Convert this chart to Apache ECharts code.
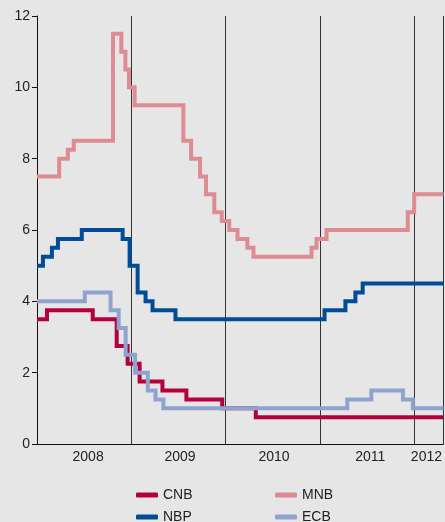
<!DOCTYPE html>
<html>
<head>
<meta charset="utf-8">
<script src="https://cdn.jsdelivr.net/npm/echarts@6/dist/echarts.min.js"></script>
<style>
html,body{margin:0;padding:0;background:#e6e6e6;}
#c{width:445px;height:522px;}
</style>
</head>
<body>
<div id="c"></div>
<script>
// Step data: [date as fractional year, rate after change]
const cnb = [[2008.0,3.5],[2008.106,3.75],[2008.591,3.5],[2008.845,2.75],[2008.961,2.25],[2009.088,1.75],[2009.33,1.5],[2009.584,1.25],[2009.964,1.0],[2010.32,0.75],[2012.31,0.75]];
const nbp = [[2008.0,5.0],[2008.063,5.25],[2008.158,5.5],[2008.222,5.75],[2008.475,6.0],[2008.908,5.75],[2008.982,5.0],[2009.067,4.25],[2009.151,4.0],[2009.225,3.75],[2009.468,3.5],[2011.049,3.75],[2011.27,4.0],[2011.376,4.25],[2011.453,4.5],[2012.31,4.5]];
const mnb = [[2008.0,7.5],[2008.235,8.0],[2008.327,8.25],[2008.39,8.5],[2008.806,11.5],[2008.894,11.0],[2008.937,10.5],[2008.975,10.0],[2009.035,9.5],[2009.552,8.5],[2009.634,8.0],[2009.729,7.5],[2009.792,7.0],[2009.88,6.5],[2009.959,6.25],[2010.038,6.0],[2010.126,5.75],[2010.231,5.5],[2010.295,5.25],[2010.911,5.5],[2010.964,5.75],[2011.07,6.0],[2011.931,6.5],[2011.999,7.0],[2012.31,7.0]];
const ecb = [[2008.0,4.0],[2008.507,4.25],[2008.78,3.75],[2008.866,3.25],[2008.94,2.5],[2009.04,2.0],[2009.175,1.5],[2009.257,1.25],[2009.34,1.0],[2011.29,1.25],[2011.545,1.5],[2011.88,1.25],[2011.985,1.0],[2012.31,1.0]];
const yearLabelValues = [2008.542, 2009.517, 2010.513, 2011.534, 2012.129];
const xMin = 2008, xMax = 2012.308;
const yMin = 0, yMax = 12, yStep = 2;

const font = '"Liberation Sans", Arial, sans-serif';
const colors = {CNB:'#b5003c', NBP:'#004c97', MNB:'#de8c92', ECB:'#8fa3cf'};

const chart = echarts.init(document.getElementById('c'), null, {renderer:'canvas'});
function mk(name, data){
  return {name, type:'line', step:'end', data, showSymbol:false, symbol:'none',
    xAxisIndex:0, yAxisIndex:0, animation:false,
    lineStyle:{color:colors[name], width:4, join:'miter'}, itemStyle:{color:colors[name]}};
}
function lg(name, left, top){
  return {show:true, data:[name], orient:'horizontal', left:left, top:top, padding:0,
    itemWidth:22, itemHeight:5, itemGap:0, icon:'roundRect',
    textStyle:{fontFamily:font, fontSize:14, color:'#222'}};
}
chart.setOption({
  backgroundColor:'#e6e6e6',
  animation:false,
  grid:{left:37, right:0, top:16, bottom:78, containLabel:false},
  legend:[lg('CNB',136,488), lg('NBP',136,510), lg('MNB',275,488), lg('ECB',275,510)],
  xAxis:[
    {type:'value', min:xMin, max:xMax, interval:1, position:'bottom',
     axisLine:{show:true, onZero:false, lineStyle:{color:'#111', width:1}},
     axisTick:{show:false}, axisLabel:{show:false},
     splitLine:{show:true, lineStyle:{color:'#333', width:1}}},
    {type:'value', min:xMin, max:xMax, position:'bottom', gridIndex:0,
     axisLine:{show:false}, axisTick:{show:false}, splitLine:{show:false},
     axisLabel:{show:true, customValues:yearLabelValues, margin:6,
       formatter:v=>String(Math.floor(v)), fontFamily:font, fontSize:14, color:'#222'}}
  ],
  yAxis:{type:'value', min:yMin, max:yMax, interval:yStep,
    axisLine:{show:true, lineStyle:{color:'#111', width:1}},
    axisTick:{show:true, length:5, lineStyle:{color:'#111'}},
    axisLabel:{fontFamily:font, fontSize:14, color:'#222', margin:7},
    splitLine:{show:false}},
  series:[mk('CNB',cnb), mk('NBP',nbp), mk('MNB',mnb), mk('ECB',ecb)]
});
</script>
</body>
</html>
